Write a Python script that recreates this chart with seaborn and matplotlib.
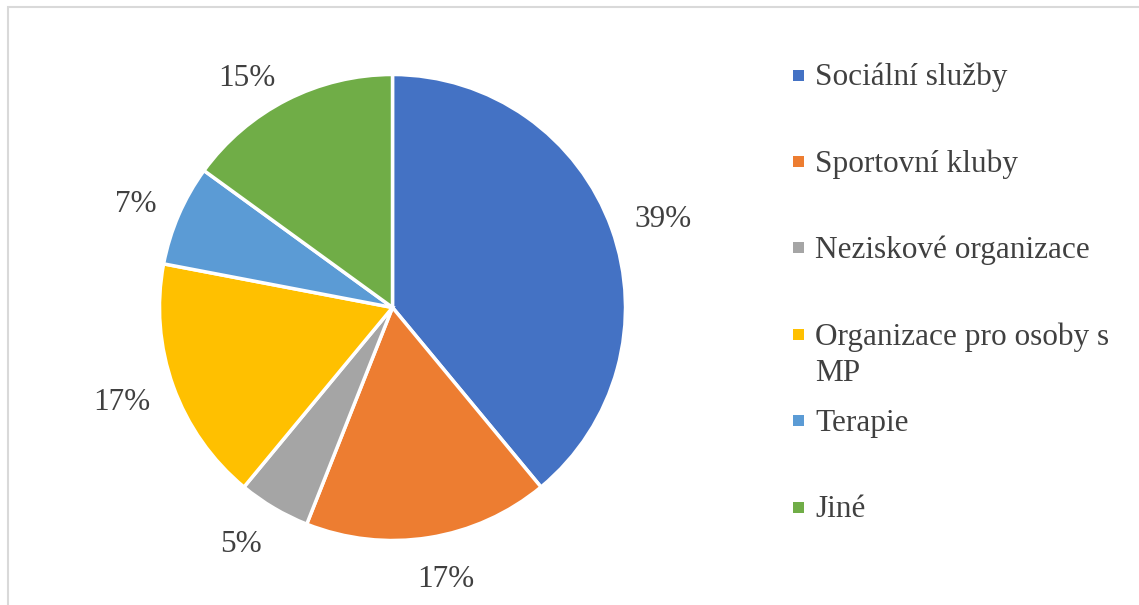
import matplotlib
matplotlib.use("Agg")
import numpy as np
import matplotlib.pyplot as plt
from matplotlib.patches import Rectangle
import seaborn as sns

# Data
categories = [
    "Sociální služby",
    "Sportovní kluby",
    "Neziskové organizace",
    "Organizace pro osoby s\nMP",
    "Terapie",
    "Jiné",
]
shares = [39, 17, 5, 17, 7, 15]
colors = ["#4472C4", "#ED7D31", "#A5A5A5", "#FFC000", "#5B9BD5", "#70AD47"]

sns.set_theme(style="white")
plt.rcParams["font.family"] = ["Liberation Serif", "DejaVu Serif"]
text_color = "#404040"
font_size = 22.5

W, H = 1139, 605
fig = plt.figure(figsize=(W / 100, H / 100), dpi=100)
fig.patch.set_facecolor("white")

# Chart-area border (continues past the right and bottom edges)
fig.add_artist(Rectangle((8 / W, -0.1), 1.2, (H - 7) / H + 0.1,
                         transform=fig.transFigure, fill=False,
                         edgecolor="#D9D9D9", linewidth=1.5))

# Pie axes: square, centred at (392.5, 307.5) px with radius 233 px
cx, cy, r = 392.5, 307.5, 233
ax = fig.add_axes([(cx - r) / W, (H - cy - r) / H, 2 * r / W, 2 * r / H])
wedges, _, autotexts = ax.pie(
    shares,
    colors=colors,
    startangle=90,
    counterclock=False,
    autopct="%1.0f%%",
    pctdistance=1.0,
    wedgeprops=dict(edgecolor="white", linewidth=2.5),
    textprops=dict(color=text_color, fontsize=font_size),
)
ax.set_xlim(-1, 1)
ax.set_ylim(-1, 1)
ax.set_aspect("equal")
ax.axis("off")

# Place the percentage labels just outside each wedge ("outside end")
fig.canvas.draw()
renderer = fig.canvas.get_renderer()
px = 1.0 / r  # one pixel in data units
for w, t in zip(wedges, autotexts):
    mid = np.deg2rad((w.theta1 + w.theta2) / 2)
    dx, dy = np.cos(mid), np.sin(mid)
    half_w = t.get_window_extent(renderer).width / 2 * px
    x = 1.103 * dx + half_w * np.clip(3 * dx, -1, 1)
    y = 1.103 * dy + (3 * px if dy > 0 else 16 * px * dy)
    t.set_position((x, y - 10 * px))
    t.set_ha("center")
    t.set_va("baseline")

# Legend on the right, one entry every 86.4 px
for i, (lab, col) in enumerate(zip(categories, colors)):
    y_px = 75 + 86.4 * i
    fig.add_artist(Rectangle((793 / W, 1 - (y_px + 5.5) / H), 11 / W, 11 / H,
                             transform=fig.transFigure, facecolor=col,
                             edgecolor="none"))
    fig.text(815 / W, 1 - (y_px - 12) / H, lab, ha="left", va="top",
             fontsize=font_size, color=text_color, linespacing=1.33)

fig.savefig("out.png", dpi=100)
